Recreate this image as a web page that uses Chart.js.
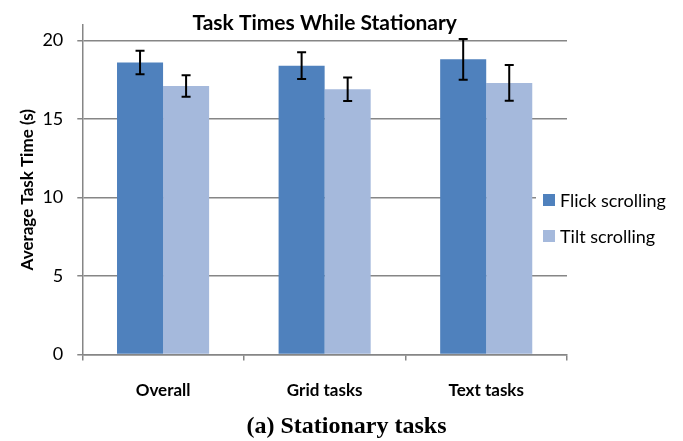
<!DOCTYPE html>
<html>
<head>
<meta charset="utf-8">
<script src="https://cdn.jsdelivr.net/npm/chart.js@4"></script>
<style>
  html, body { margin: 0; padding: 0; background: #fff; overflow: hidden; }
  #page { width: 683px; height: 441px; position: relative; }
  #wrap { width: 683px; height: 421px; position: absolute; left: 0; top: 0; }
  #caption {
    position: absolute; left: 0; top: 412px;
    width: 683px; height: 32px; box-sizing: border-box; padding-left: 10px;
    text-align: center; line-height: 32px;
    font: bold 24px "Liberation Serif", "Times New Roman", serif; color: #000;
  }
</style>
</head>
<body>
<div id="page">
  <div id="wrap"><canvas id="chart"></canvas></div>
  <div id="caption">(a) Stationary tasks</div>
</div>
<script>
const categories = ['Overall', 'Grid tasks', 'Text tasks'];
const flickTimes = [18.6, 18.4, 18.8];
const tiltTimes = [17.1, 16.9, 17.3];
const flickErr = [0.75, 0.85, 1.3];
const tiltErr = [0.68, 0.75, 1.14];
const yTicks = [0, 5, 10, 15, 20];

const FONT = 'Lato, "Open Sans", sans-serif';

// error bars drawn over the bars
const errorBars = {
  id: 'errorBars',
  afterDatasetsDraw(chart) {
    const ctx = chart.ctx;
    const y = chart.scales.y;
    chart.data.datasets.forEach((ds, i) => {
      const meta = chart.getDatasetMeta(i);
      meta.data.forEach((bar, j) => {
        const v = ds.data[j], e = ds.errors[j];
        const top = y.getPixelForValue(v + e);
        const bot = y.getPixelForValue(v - e);
        ctx.save();
        ctx.strokeStyle = '#000';
        ctx.lineWidth = 2;
        ctx.beginPath();
        ctx.moveTo(bar.x, top); ctx.lineTo(bar.x, bot);
        ctx.moveTo(bar.x - 4.5, top); ctx.lineTo(bar.x + 4.5, top);
        ctx.moveTo(bar.x - 4.5, bot); ctx.lineTo(bar.x + 4.5, bot);
        ctx.stroke();
        ctx.restore();
      });
    });
  }
};

// legend sits over the right edge of the plot, like the Excel original
const sideLegend = {
  id: 'sideLegend',
  afterDraw(chart) {
    const ctx = chart.ctx;
    ctx.save();
    ctx.fillStyle = '#fff';
    ctx.fillRect(536, 182, 145, 72);
    ctx.font = '18px ' + FONT;
    ctx.textBaseline = 'middle';
    chart.data.datasets.forEach((ds, i) => {
      const cy = 200 + i * 36;
      ctx.fillStyle = ds.backgroundColor;
      ctx.fillRect(543, cy - 6, 12, 12);
      ctx.fillStyle = '#000';
      ctx.fillText(ds.label, 560, cy + 1);
    });
    ctx.restore();
  }
};

new Chart(document.getElementById('chart'), {
  type: 'bar',
  data: {
    labels: categories,
    datasets: [
      { label: 'Flick scrolling', data: flickTimes, errors: flickErr, backgroundColor: '#4F81BD' },
      { label: 'Tilt scrolling', data: tiltTimes, errors: tiltErr, backgroundColor: '#A5B9DC' }
    ]
  },
  options: {
    responsive: true, maintainAspectRatio: false, animation: false,
    layout: { padding: { top: 0, right: 116, bottom: 0, left: 17 } },
    datasets: { bar: { categoryPercentage: 0.57, barPercentage: 1.0 } },
    plugins: {
      legend: { display: false },
      tooltip: { enabled: false },
      title: {
        display: true, text: 'Task Times While Stationary', fullSize: false,
        color: '#000', font: { family: FONT, size: 21, weight: 'bold', lineHeight: 1.2 },
        padding: { top: 5, bottom: -11 }
      }
    },
    scales: {
      x: {
        offset: true,
        grid: { drawOnChartArea: false, drawTicks: true, tickLength: 6, color: '#868686', lineWidth: 1.5 },
        border: { color: '#868686', width: 1.5 },
        ticks: { color: '#000', font: { family: FONT, size: 17, weight: 'bold' }, padding: 20 }
      },
      y: {
        min: 0, max: 21,
        afterBuildTicks: axis => { axis.ticks = yTicks.map(v => ({ value: v })); },
        grid: { color: '#868686', lineWidth: 1.5, tickLength: 5 },
        border: { color: '#868686', width: 1.5 },
        ticks: { color: '#000', font: { family: FONT, size: 18 }, padding: 14 },
        title: {
          display: true, text: 'Average Task Time (s)', color: '#000',
          font: { family: FONT, size: 17, weight: 'bold' }, padding: { top: 0, bottom: -9 }
        }
      }
    }
  },
  plugins: [errorBars, sideLegend]
});
</script>
</body>
</html>
